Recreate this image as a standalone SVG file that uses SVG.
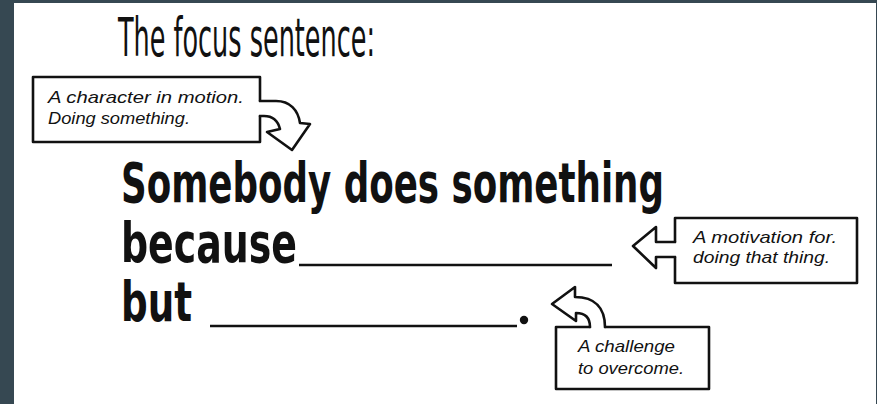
<svg xmlns="http://www.w3.org/2000/svg" width="877" height="404" viewBox="0 0 877 404">
<style>
.frame{fill:#364852}
.title{font-family:"DejaVu Sans Condensed","DejaVu Sans",sans-serif;font-stretch:condensed;font-weight:normal;font-size:53px;fill:#111}
.main{font-family:"DejaVu Sans Condensed","DejaVu Sans",sans-serif;font-stretch:condensed;font-weight:bold;font-size:55px;fill:#111}
.hand{font-family:"Liberation Sans","DejaVu Sans",sans-serif;font-style:italic;font-weight:normal;font-size:17px;fill:#111}
.box{fill:none;stroke:#111;stroke-width:2.6;stroke-linejoin:round;stroke-linecap:round}
.arrow{fill:#fff;stroke:#111;stroke-width:2.6;stroke-linejoin:round;stroke-linecap:round}
.blank{stroke:#111;stroke-width:2.6}
</style>
<rect width="877" height="404" fill="#fff"/>
<rect class="frame" x="0" y="0" width="14" height="404"/>
<rect class="frame" x="0" y="0" width="877" height="3"/>
<rect class="frame" x="876" y="0" width="1" height="404"/>

<g id="title">
<text class="title" x="118" y="56" textLength="257" lengthAdjust="spacingAndGlyphs">The focus sentence:</text>
</g>

<g id="sentence">
<text class="main" x="121" y="202" textLength="543" lengthAdjust="spacingAndGlyphs">Somebody does something</text>
<text class="main" x="121" y="262" textLength="176" lengthAdjust="spacingAndGlyphs">because</text>
<line class="blank" x1="299" y1="265" x2="612" y2="265"/>
<text class="main" x="121" y="321" textLength="71" lengthAdjust="spacingAndGlyphs">but</text>
<line class="blank" x1="210" y1="326" x2="517" y2="326"/>
<circle cx="524" cy="320" r="4.2" fill="#111"/>
</g>

<g id="node-character">
<path class="box" d="M260,101 L260,77 L33,77 L33,142 L260,142 L260,116"/>
<text class="hand" x="48" y="103" textLength="196" lengthAdjust="spacingAndGlyphs">A character in motion.</text>
<text class="hand" x="48" y="124" textLength="142" lengthAdjust="spacingAndGlyphs">Doing something.</text>
</g>

<g id="node-motivation">
<path class="box" d="M675,242 L675,218 L857,218 L857,283 L675,283 L675,257"/>
<text class="hand" x="693" y="243" textLength="144" lengthAdjust="spacingAndGlyphs">A motivation for.</text>
<text class="hand" x="693" y="263" textLength="137" lengthAdjust="spacingAndGlyphs">doing that thing.</text>
</g>

<g id="node-challenge">
<path class="box" d="M605,327 L709,327 L709,389 L556,389 L556,327 L590,327"/>
<text class="hand" x="578" y="352" textLength="97" lengthAdjust="spacingAndGlyphs">A challenge</text>
<text class="hand" x="578" y="374" textLength="106" lengthAdjust="spacingAndGlyphs">to overcome.</text>
</g>

<g id="connectors">
<path class="arrow" d="M260,101 L276,101 C290,101 298,110 300,123 L310,124 L292,150 L267,132 L280,129 C278,121 273,116 264,116 L260,116"/>
<path class="arrow" d="M675,242 L656,242 L656,227 L633,246 L656,268 L656,257 L675,257"/>
<path class="arrow" d="M590,327 C590,318 586,313 576,313 L576,321 L552,304 L575,287 L575,297 C595,297 605,308 605,327"/>
</g>
</svg>
